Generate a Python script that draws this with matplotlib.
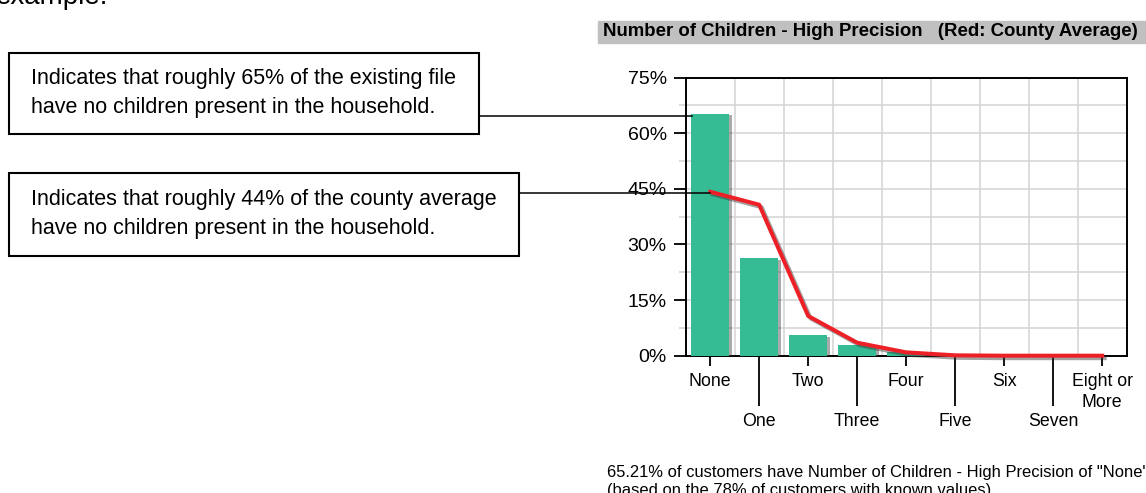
import matplotlib.pyplot as plt
import matplotlib.patheffects as pe
from matplotlib.patches import Rectangle
from matplotlib.lines import Line2D
from matplotlib.ticker import MultipleLocator

plt.rcParams['font.family'] = ['Liberation Sans', 'DejaVu Sans']

categories = ['None', 'One', 'Two', 'Three', 'Four', 'Five', 'Six', 'Seven', 'Eight or\nMore']
file_pct = [65.21, 26.3, 5.5, 2.8, 1.0, 0.2, 0.1, 0.05, 0.05]
county_pct = [44.2, 40.7, 10.7, 3.5, 0.9, 0.1, 0.0, 0.0, 0.0]
y_ticks = [0, 15, 30, 45, 60, 75]

title = 'Number of Children - High Precision   (Red: County Average)'
caption = ['65.21% of customers have Number of Children - High Precision of "None"',
           '(based on the 78% of customers with known values).']
notes = [
    ['Indicates that roughly 65% of the existing file',
     'have no children present in the household.'],
    ['Indicates that roughly 44% of the county average',
     'have no children present in the household.'],
]

W, H = 1146, 493
fig = plt.figure(figsize=(W / 100, H / 100), dpi=100)


# pixel helpers (origin top-left)
def fx(x):
    return x / W


def fy(y):
    return 1 - y / H


ax = fig.add_axes([fx(685.7), fy(355.7), fx(1126.7) - fx(685.7), fy(77.5) - fy(355.7)])
x = list(range(len(categories)))

ax.bar(x, file_pct, width=0.78, color='#36bc94', zorder=3,
       path_effects=[pe.SimplePatchShadow(offset=(2, -1), shadow_rgbFace='#444444', alpha=0.45),
                     pe.Normal()])
ax.plot(x, county_pct, color='#ee2027', lw=2.9, zorder=5, clip_on=False,
        path_effects=[pe.SimpleLineShadow(offset=(1.8, -1.8), shadow_color='#333333', alpha=0.45),
                      pe.Normal()])

ax.set_xlim(-0.5, len(categories) - 0.5)
ax.set_ylim(0, 75)

# alternating long/short ticks on the category axis
ax.set_xticks(x[0::2], categories[0::2])
ax.set_xticks(x[1::2], categories[1::2], minor=True)
ax.tick_params(axis='x', which='major', length=7.2, width=1.3, pad=5.0, labelsize=12.8)
ax.tick_params(axis='x', which='minor', length=36, width=1.3, pad=5.0, labelsize=12.8)
for lab in ax.get_xticklabels():
    lab.set_linespacing(1.33)

ax.set_yticks(y_ticks, [f'{v}%' for v in y_ticks])
ax.yaxis.set_minor_locator(MultipleLocator(7.5))
ax.tick_params(axis='y', which='major', length=8.4, width=1.3, pad=5.3, labelsize=14)
ax.tick_params(axis='y', which='minor', length=5, width=1.1, color='#d3d3d3')

ax.set_axisbelow(True)
ax.yaxis.grid(True, which='both', color='#d3d3d3', lw=1.1)
for k in x[:-1]:
    ax.axvline(k + 0.5, color='#d3d3d3', lw=1.1, zorder=0.5)

for s in ax.spines.values():
    s.set_linewidth(1.4)
    s.set_color('black')

# header bar
fig.patches.append(Rectangle((fx(598), fy(43.3)), fx(1146) - fx(598), fy(21) - fy(43.3),
                             transform=fig.transFigure, color='#c0c0c0', zorder=0))
fig.text(fx(603), fy(32), title, fontsize=13.4, fontweight='bold', va='center', ha='left')

# cut-off word at the very top
fig.text(fx(-4), fy(3.5), 'example.', fontsize=20, va='baseline', ha='left')

# annotation boxes with leader lines
boxes = [(9, 52.7, 479, 134), (9, 173.3, 519, 255.7)]
leaders = [(479, 692, 115.7), (519, 710, 192.7)]
for (x0, y0, x1, y1), lines in zip(boxes, notes):
    fig.patches.append(Rectangle((fx(x0), fy(y1)), fx(x1) - fx(x0), fy(y0) - fy(y1),
                                 transform=fig.transFigure, facecolor='white',
                                 edgecolor='black', lw=1.5, zorder=1))
    fig.text(fx(30.7), fy(y0 + 31.5), lines[0], fontsize=15.5, va='baseline', ha='left')
    fig.text(fx(30.7), fy(y0 + 60.5), lines[1], fontsize=15.5, va='baseline', ha='left')
for xa, xb, yl in leaders:
    fig.add_artist(Line2D([fx(xa), fx(xb)], [fy(yl), fy(yl)], transform=fig.transFigure,
                          color='black', lw=1.1, zorder=10))

# footnote under the chart
for line, yb in zip(caption, [476.5, 494.5]):
    fig.text(fx(606.7), fy(yb), line, fontsize=11.9, va='baseline', ha='left')

fig.savefig('out.png', dpi=100)
